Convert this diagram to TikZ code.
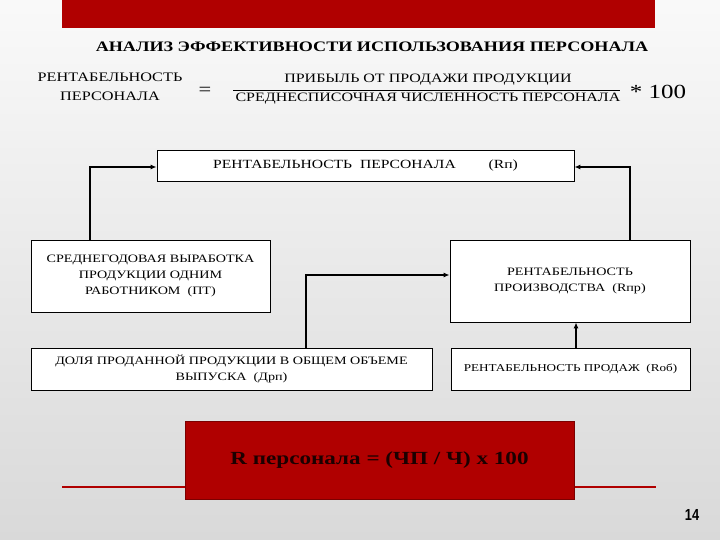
\documentclass[tikz,border=0pt]{standalone}
\usepackage{fontspec}
\setmainfont[FakeStretch=1.25]{Liberation Serif}
\newfontfamily\numfont[FakeStretch=0.8]{Liberation Sans}
\usetikzlibrary{arrows.meta}
\definecolor{redbar}{HTML}{B00000}
\definecolor{bg}{HTML}{D9D9D9}
\tikzset{box/.style={draw=black,fill=white,line width=0.8pt,align=center,font=\fontsize{11.3}{16}\selectfont,inner sep=0pt},
conn/.style={line width=1.2pt,-{Latex[length=6pt,width=5pt]}}}
\begin{document}
\begin{tikzpicture}[x=1pt,y=-1pt]
\useasboundingbox (0,0) rectangle (720,540);
\shade[top color=white!85!bg,bottom color=bg] (0,0) rectangle (720,540);
\fill[redbar] (62,0) rectangle (655,28);
\node[font=\bfseries\fontsize{14.5}{16}\selectfont] (title) at (372,47) {АНАЛИЗ ЭФФЕКТИВНОСТИ ИСПОЛЬЗОВАНИЯ ПЕРСОНАЛА};
\node[align=center,font=\fontsize{13}{19}\selectfont] (lhs) at (110,87) {РЕНТАБЕЛЬНОСТЬ\\ПЕРСОНАЛА};
\node[font=\fontsize{18}{18}\selectfont] (eq) at (205,91) {=};
\node[font=\fontsize{12.8}{14}\selectfont] (num) at (428,80) {ПРИБЫЛЬ ОТ ПРОДАЖИ ПРОДУКЦИИ};
\node[font=\fontsize{12.8}{14}\selectfont] (den) at (428,99) {СРЕДНЕСПИСОЧНАЯ ЧИСЛЕННОСТЬ ПЕРСОНАЛА};
\coordinate (fl) at (233,90); \coordinate (fr) at (620,90);
\draw[line width=0.8pt] (fl) -- (fr);
\node[font=\fontsize{20}{20}\selectfont] (mul) at (658,92) {* 100};

\node[box,minimum width=417,minimum height=31,font=\fontsize{12.5}{14}\selectfont] (top) at (365.5,165.5) {РЕНТАБЕЛЬНОСТЬ\ \ ПЕРСОНАЛА\qquad\ \ (Rп)};
\node[box,minimum width=239,minimum height=72] (pt) at (150.5,276) {СРЕДНЕГОДОВАЯ ВЫРАБОТКА\\ПРОДУКЦИИ ОДНИМ\\РАБОТНИКОМ\ \ (ПТ)};
\node[box,minimum width=240,minimum height=82] (rpr) at (570,281) {РЕНТАБЕЛЬНОСТЬ\\ПРОИЗВОДСТВА\ \ (Rпр)};
\node[box,minimum width=401,minimum height=42] (drp) at (231.5,369) {ДОЛЯ ПРОДАННОЙ ПРОДУКЦИИ В ОБЩЕМ ОБЪЕМЕ\\ВЫПУСКА\ \ (Дрп)};
\node[box,minimum width=239,minimum height=42,font=\fontsize{10.5}{14}\selectfont] (rob) at (570.5,369) {РЕНТАБЕЛЬНОСТЬ ПРОДАЖ\ \ (Rоб)};

\draw[conn] (pt.north -| 90,0) |- (top.west |- 0,167);
\draw[conn] (rpr.north -| 630,0) |- (top.east |- 0,167);
\draw[conn] (drp.north -| 306,0) |- (rpr.west |- 0,275);
\draw[conn] (rob.north -| 576,0) -- (rpr.south -| 576,0);

\coordinate (ll) at (62,487); \coordinate (lr) at (656,487);
\draw[redbar,line width=1.5pt] (ll) -- (lr);
\node[fill=redbar,draw=redbar!70!black,minimum width=389,minimum height=78,inner sep=0pt,font=\bfseries\fontsize{18.5}{18}\selectfont,text=black!85!redbar] (form) at (379.5,460) {R персонала = (ЧП / Ч) х 100};
\node[font=\numfont\bfseries\fontsize{16}{16}\selectfont] (pg) at (692,515) {14};
\end{tikzpicture}
\end{document}
